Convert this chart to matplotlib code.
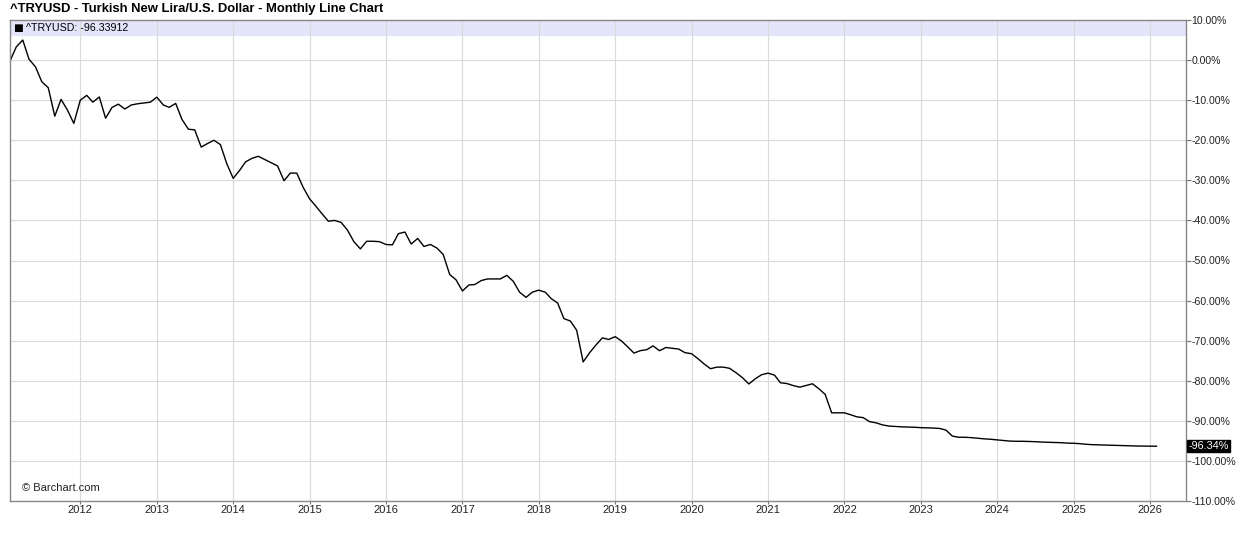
import matplotlib.pyplot as plt
import matplotlib.dates as mdates
import matplotlib.ticker as mticker
import pandas as pd

# monthly % change of ^TRYUSD since Feb 2011
start_month = "2011-02-01"
pct_2011 = [0.0, 3.3, 5.0, 0.2, -1.7, -5.4, -6.9, -14.0, -9.8, -12.5, -15.8]
pct_2012 = [-10.0, -8.8, -10.5, -9.2, -14.5, -11.8, -11.0, -12.2, -11.2, -10.9, -10.7, -10.5]
pct_2013 = [-9.25, -11.2, -11.8, -10.8, -14.8, -17.25, -17.4, -21.7, -20.8, -20.0, -21.1, -25.8]
pct_2014 = [-29.5, -27.5, -25.4, -24.5, -24.0, -24.8, -25.6, -26.4, -30.1, -28.2, -28.2, -31.7]
pct_2015 = [-34.6, -36.5, -38.3, -40.2, -40.0, -40.5, -42.4, -45.3, -47.1, -45.2, -45.2, -45.3]
pct_2016 = [-46.0, -46.1, -43.3, -42.9, -45.9, -44.5, -46.5, -46.0, -46.9, -48.5, -53.5, -54.8]
pct_2017 = [-57.6, -56.1, -56.0, -55.0, -54.6, -54.6, -54.6, -53.7, -55.2, -57.9, -59.2, -57.9]
pct_2018 = [-57.4, -57.9, -59.5, -60.6, -64.5, -65.1, -67.4, -75.3, -73.0, -71.1, -69.3, -69.7]
pct_2019 = [-69.0, -70.1, -71.5, -73.1, -72.5, -72.25, -71.3, -72.5, -71.7, -71.9, -72.1, -73.0]
pct_2020 = [-73.25, -74.5, -75.8, -77.0, -76.6, -76.6, -76.9, -78.0, -79.25, -80.8, -79.5, -78.5]
pct_2021 = [-78.1, -78.6, -80.5, -80.7, -81.2, -81.6, -81.2, -80.75, -82.0, -83.4, -88.0, -88.0]
pct_2022 = [-88.0, -88.5, -89.0, -89.2, -90.2, -90.5, -91.0, -91.3, -91.4, -91.5, -91.55, -91.6]
pct_2023 = [-91.7, -91.75, -91.8, -91.9, -92.3, -93.8, -94.1, -94.1, -94.2, -94.35, -94.5, -94.6]
pct_2024 = [-94.75, -94.9, -95.05, -95.1, -95.1, -95.15, -95.2, -95.3, -95.35, -95.4, -95.45, -95.55]
pct_2025 = [-95.6, -95.7, -95.85, -95.95, -96.0, -96.05, -96.1, -96.15, -96.2, -96.25, -96.28, -96.3]
pct_2026 = [-96.32, -96.34]

last_value = -96.33912
y_ticks = list(range(-110, 11, 10))
years = list(range(2012, 2027))

plt.rcParams["font.family"] = ["Liberation Sans", "DejaVu Sans"]

values = (pct_2011 + pct_2012 + pct_2013 + pct_2014 + pct_2015 + pct_2016
          + pct_2017 + pct_2018 + pct_2019 + pct_2020 + pct_2021 + pct_2022
          + pct_2023 + pct_2024 + pct_2025 + pct_2026)
df = pd.DataFrame({
    "date": pd.date_range(start_month, periods=len(values), freq="MS"),
    "pct": values,
})

W, H = 1236, 542
fig = plt.figure(figsize=(W / 100, H / 100), dpi=100)
ax = fig.add_axes([10 / W, 1 - 501 / H, (1186 - 10) / W, (501 - 20) / H])

ax.plot(df["date"], df["pct"], color="black", linewidth=1.0)

# legend header band
ax.axhspan(6.25, 10, color="#e4e4fa", zorder=0)
ax.text(0.003, 8.1, "\u25a0", fontsize=7.5, va="center", ha="left",
        transform=ax.get_yaxis_transform(), family=["DejaVu Sans"])
ax.text(0.0135, 8.1, "^TRYUSD: -96.33912", fontsize=7.7, va="center", ha="left",
        transform=ax.get_yaxis_transform())

ax.set_ylim(-110, 10)
ax.set_xlim(pd.Timestamp("2011-01-30"), pd.Timestamp("2026-06-22"))

ax.yaxis.tick_right()
ax.set_yticks(y_ticks)
ax.yaxis.set_major_formatter(mticker.FuncFormatter(lambda v, p: f"{v:.2f}%"))
ax.set_xticks([pd.Timestamp(f"{y}-01-01") for y in years])
ax.xaxis.set_major_formatter(mdates.DateFormatter("%Y"))
ax.tick_params(axis="y", direction="out", length=3.5, width=0.8, color="#777777",
               labelsize=7.6, pad=0.3, labelcolor="#222222")
ax.tick_params(axis="x", direction="out", length=2, width=0.8, color="#777777",
               labelsize=8, pad=1.2, labelcolor="#222222")

ax.grid(True, color="#dadada", linewidth=0.8)
ax.set_axisbelow(True)
for s in ax.spines.values():
    s.set_color("#888888")
    s.set_linewidth(1.0)

# last value box on the right axis
ax.annotate(f"{last_value:.2f}%", xy=(1.0, last_value),
            xycoords=("axes fraction", "data"), xytext=(1.5, 0),
            textcoords="offset points", va="center", ha="left",
            fontsize=7.8, color="white",
            bbox=dict(boxstyle="square,pad=0.1", fc="black", ec="black"))

ax.text(0.01, 0.027, "\u00a9 Barchart.com", transform=ax.transAxes,
        fontsize=8, color="#222222", va="center", ha="left")

fig.text(10 / W, 1 - 9 / H,
         "^TRYUSD - Turkish New Lira/U.S. Dollar - Monthly Line Chart",
         fontsize=9.4, fontweight="bold", va="center", ha="left")

fig.savefig("out.png", dpi=100)
